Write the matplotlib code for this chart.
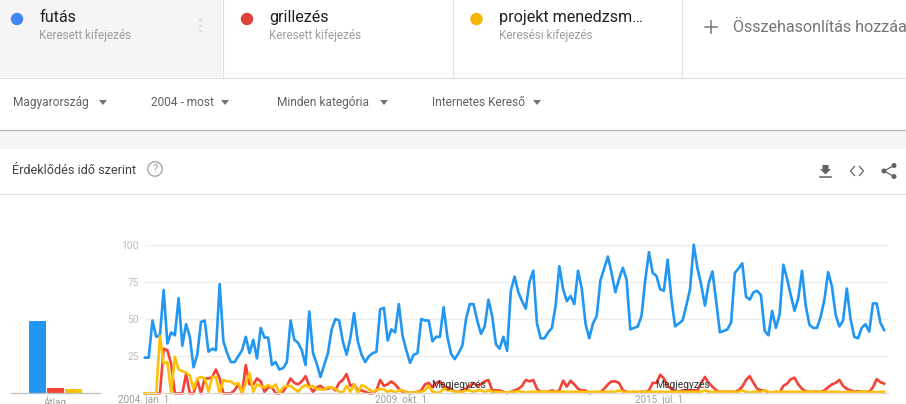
import numpy as np
import matplotlib
matplotlib.use("Agg")
import matplotlib.pyplot as plt
from matplotlib.patches import Circle, Polygon, Rectangle

plt.rcParams['font.family'] = ['Roboto', 'DejaVu Sans']

# data
futas = [24, 24, 49, 38, 39, 69.5, 33.5, 41, 39, 64, 32, 46.5, 38, 17.5, 26, 48, 49, 28, 30, 29,
         73.5, 35, 27, 21, 21, 25, 29, 38, 27, 36, 23.5, 44, 37.5, 37.5, 19, 21, 16, 17, 21, 49,
         36, 34, 29, 19, 55, 27, 20, 11, 19, 27, 43, 50, 49, 35, 26, 37, 54, 35, 26, 21,
         25, 27, 28, 56.5, 57.5, 35.5, 43, 41, 60, 38.5, 29, 20.5, 26, 27, 50, 49, 49, 35, 38, 38,
         58, 38, 26.5, 23, 27, 32, 50, 60, 60, 49, 40, 45, 63, 52, 33, 30, 38, 28.5, 69, 78.5,
         68, 62, 57, 75, 82.5, 47, 37, 37, 41, 44, 59, 85.5, 70, 62, 65.5, 60, 82.5, 70.5, 47, 37,
         47, 52, 76, 84, 92, 81, 68, 77, 84.5, 76.5, 43, 44, 45, 52, 76, 95, 81, 79, 70, 69,
         90, 64, 45, 47, 49, 59, 70, 100, 84, 73, 59, 74, 82, 62, 41, 42, 43, 47.5, 81, 84,
         87.5, 65, 63, 68, 69, 66, 42, 39, 55.5, 44, 53, 86.5, 77, 66, 55.5, 64, 82.5, 59, 46, 44,
         44, 51.5, 63, 81.5, 72, 53, 45, 49, 70.5, 50, 38, 37, 44, 46.5, 41.5, 60.5, 60.5, 47.5, 42.5]
grillezes = [0, 0, 0, 0, 0, 30, 29, 20, 0, 0, 0, 13, 0, 0, 9, 0, 10, 10, 11, 16,
             10, 0, 0, 0, 2, 6, 0, 19, 6, 6, 10, 8, 1, 4, 4, 0, 0, 1, 5, 10,
             7, 6, 8, 11.5, 5, 1, 4, 5, 3, 3, 4, 2, 7, 9, 13, 5, 6, 2, 2, 1,
             0, 0, 2, 9, 5, 6, 8, 6, 3, 1, 1, 0, 0.5, 1, 2, 6, 7, 4, 7, 8,
             5, 4, 3, 1, 1, 2, 3, 5, 7, 5, 6, 8, 9, 2, 2, 2, 1, 0, 1, 2,
             3, 5, 9, 8, 9, 3, 1, 1, 1, 2, 1, 2, 8.5, 4.5, 8.5, 6, 3, 2, 2, 0,
             0.5, 0.5, 1, 3, 6, 8, 8, 7, 2, 1, 0.5, 1, 0.5, 1, 1, 2, 7, 7, 12.5, 10,
             5, 3, 1.5, 1, 2, 2, 2, 2, 2, 7, 11, 7, 4.5, 2, 1, 1, 1, 1, 1, 2,
             4.5, 9, 11.5, 7, 3, 2, 2, 0.5, 0.5, 1, 0.5, 5, 6.5, 9.5, 10.5, 6, 3, 1.5, 1, 1,
             1, 1, 2, 4, 6, 7, 9, 5, 3, 2, 1, 1.5, 1, 1, 1, 4, 9.5, 7.5, 6.5]
projekt = [0, 0, 0, 0, 38.5, 20, 21, 0, 24.5, 16, 15, 14, 12, 3, 10, 11, 10, 1, 11, 11,
           0, 9, 8, 8, 6, 7, 0, 7, 13.5, 1, 6, 5, 4, 5.5, 4, 6, 0, 4, 5, 5,
           3, 1, 4, 5.5, 4, 5, 3, 2.5, 2.5, 4, 4, 3, 1, 0.5, 5, 1, 6, 0, 5.5, 4.5,
           2.5, 1, 2, 3, 2.5, 1, 2, 0.5, 2, 2, 0.5, 0.5, 0.5, 1, 1, 2, 5, 1, 0.5, 0.5,
           3, 2, 2, 1, 1, 1, 2, 2, 1, 2, 2, 1, 2, 1, 1, 1, 0.5, 0.5, 1, 1,
           1.5, 1, 0.5, 1, 1, 1, 1, 1, 1, 1, 1, 1, 1, 1, 1, 1, 1, 1, 1, 1,
           1, 1, 1, 1, 1, 1, 1, 2, 1, 0.5, 1, 1, 1, 1, 1, 1, 1, 1, 1, 1,
           1, 1, 1, 1, 1, 1, 1, 1, 1, 1, 2, 1, 1, 1, 1, 1, 1, 1, 1, 1,
           2, 1, 0.5, 1, 1, 1, 2, 1, 0.5, 1, 1, 1, 1, 1, 1, 1, 1, 1, 1, 1,
           1, 1, 1, 1, 1, 1, 1, 0.5, 1, 1, 0.5, 1, 1, 1, 1, 1, 0.5, 1, 1]
atlag = [48.5, 3.5, 2.8]
series_colors = ['#2196F3', '#F44336', '#FFC107']
y_ticks = [25, 50, 75, 100]
x_tick_pos = [0, 69, 138]
x_tick_labels = ['2004. jan. 1.', '2009. okt. 1.', '2015. júl. 1.']
note_pos = [84, 144]

W, H = 906, 404
fig = plt.figure(figsize=(W / 100, H / 100), dpi=100, facecolor='white')


def px_axes(left, top, right, bottom):
    return fig.add_axes([left / W, 1 - bottom / H, (right - left) / W, (bottom - top) / H])


# page chrome in pixel coordinates
ui = fig.add_axes([0, 0, 1, 1])
ui.set_xlim(0, W)
ui.set_ylim(H, 0)
ui.axis('off')

ui.add_patch(Rectangle((0, 0), 222, 77, fc='#f5f5f5', ec='none'))
ui.add_patch(Rectangle((0, 130), W, 19, fc='#f5f5f5', ec='none'))
ui.plot([0, W], [77.5, 77.5], color='#e0e0e0', lw=0.9)
ui.plot([0, W], [129.5, 129.5], color='#bdbdbd', lw=1.0)
ui.plot([0, W], [193.5, 193.5], color='#e0e0e0', lw=0.8)
for xv in [222.5, 452.5, 681.5]:
    ui.plot([xv, xv], [0, 77], color='#e0e0e0', lw=0.8)

terms = [(17, 39, '#4285F4', 'futás', 'Keresett kifejezés'),
         (247, 269, '#DB4437', 'grillezés', 'Keresett kifejezés'),
         (476.5, 499, '#F4B400', 'projekt menedzsm…', 'Keresési kifejezés')]
for dot_x, text_x, col, name, kind in terms:
    ui.add_patch(Circle((dot_x, 19), 6.2, fc=col, ec='none'))
    ui.text(text_x, 17.5, name, fontsize=11.6, color='#212121', va='center')
    ui.text(text_x, 35.5, kind, fontsize=8.5, color='#9e9e9e', va='center')

for yv in [20, 26, 31]:
    ui.add_patch(Circle((200.5, yv), 1.4, fc='#dcdcdc', ec='none'))

ui.plot([705, 717], [27, 27], color='#757575', lw=1.1)
ui.plot([711, 711], [21, 33], color='#757575', lw=1.1)
ui.text(733, 27, 'Összehasonlítás hozzáa', fontsize=11.6, color='#757575', va='center', clip_on=True)

filters = [(12.5, 103, 'Magyarország'), (151, 225, '2004 - most'),
           (277, 384, 'Minden kategória'), (432, 537, 'Internetes Kereső')]
for text_x, tri_x, label in filters:
    ui.text(text_x, 102.5, label, fontsize=8.6, color='#616161', va='center')
    ui.add_patch(Polygon([(tri_x - 4, 100), (tri_x + 4, 100), (tri_x, 105)], fc='#757575', ec='none'))

ui.text(12, 170, 'Érdeklődés idő szerint', fontsize=9.1, color='#424242', va='center')
ui.add_patch(Circle((155, 169), 7.2, fc='none', ec='#9e9e9e', lw=0.9))
ui.text(155, 169.5, '?', fontsize=8, color='#9e9e9e', ha='center', va='center')

# download, embed and share icons
ui.add_patch(Polygon([(822.5, 165), (828.5, 165), (828.5, 169), (831, 169), (825.5, 174.5), (820, 169), (822.5, 169)],
                     fc='#616161', ec='none'))
ui.plot([820, 831], [176.5, 176.5], color='#616161', lw=1.1)
ui.plot([854.5, 850.5, 854.5], [166.5, 171, 175.5], color='#616161', lw=0.9)
ui.plot([859.5, 863.5, 859.5], [166.5, 171, 175.5], color='#616161', lw=0.9)
ui.plot([894, 884, 894], [165.5, 171, 176.5], color='#616161', lw=0.9)
for cx, cy in [(894, 165.5), (884, 171), (894, 176.5)]:
    ui.add_patch(Circle((cx, cy), 2.5, fc='#616161', ec='none'))

# average bars, same value scale as the line chart
bar_ax = px_axes(11, 244.7, 100, 393.3)
bar_ax.patch.set_alpha(0)
bar_ax.bar([0, 1, 2], atlag, width=0.95, color=series_colors)
bar_ax.set_xlim(-1.44, 3.45)
bar_ax.set_ylim(0, 100)
bar_ax.set_yticks([])
bar_ax.set_xticks([1])
bar_ax.set_xticklabels(['Átlag'], fontsize=7.2, color='#9e9e9e')
bar_ax.tick_params(axis='x', length=0, pad=2)
for s in ['top', 'left', 'right']:
    bar_ax.spines[s].set_visible(False)
bar_ax.spines['bottom'].set_color('#bdbdbd')
bar_ax.spines['bottom'].set_linewidth(0.9)

# line chart
ax = px_axes(145, 244.7, 888, 393.3)
ax.patch.set_alpha(0)
ax.set_xlim(0, (888 - 145) / 3.733)
ax.set_ylim(0, 100)
ax.set_yticks(y_ticks)
ax.set_yticklabels([str(v) for v in y_ticks], fontsize=7.4, color='#bdbdbd')
ax.set_xticks(x_tick_pos)
ax.set_xticklabels(x_tick_labels, fontsize=7.1, color='#9e9e9e')
ax.tick_params(axis='both', length=0)
ax.tick_params(axis='y', pad=4.5)
ax.tick_params(axis='x', pad=1.5)
ax.grid(axis='y', color='#eeeeee', lw=1.0)
ax.set_axisbelow(True)
for s in ['top', 'left', 'right']:
    ax.spines[s].set_visible(False)
ax.spines['bottom'].set_color('#d8d8d8')
ax.spines['bottom'].set_linewidth(1.0)
ax.axhline(100, color='#eeeeee', lw=1.0, zorder=0)

for values, col in zip([futas, grillezes, projekt], series_colors):
    ax.plot(np.arange(len(values)), values, color=col, lw=1.9, solid_joinstyle='round', clip_on=False)

for pos in note_pos:
    ax.text(pos, 5.5, 'Megjegyzés', fontsize=7.4, color='#333333', ha='center', va='center')

fig.savefig('out.png', dpi=100)
